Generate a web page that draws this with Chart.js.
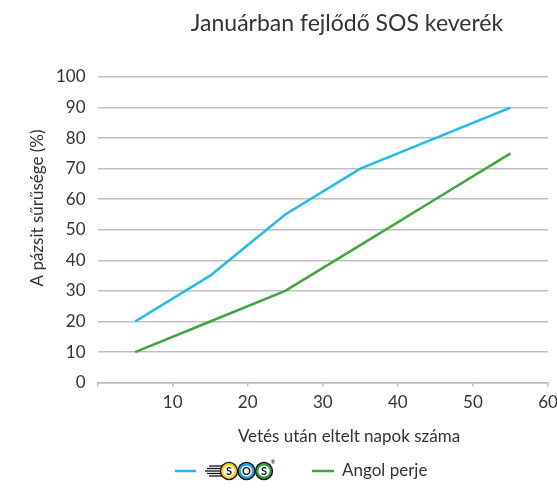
<!DOCTYPE html>
<html lang="hu">
<head>
  <meta charset="UTF-8" />
  <title>Januárban fejlődő SOS keverék</title>
  <script src="https://cdn.jsdelivr.net/npm/chart.js"></script>
  <style>
    html, body { margin: 0; padding: 0; background: #fff; }
    #wrap { width: 557px; height: 488px; position: relative; }
  </style>
</head>
<body>
  <div id="wrap"><canvas id="chart"></canvas></div>
  <script>
    const days = [5, 15, 25, 35, 45, 55];
    const sosValues = [20, 35, 55, 70, 80, 90];
    const angolValues = [10, 20, 30, 45, 60, 75];
    const xTicks = [0, 10, 20, 30, 40, 50, 60];

    const FONT = "Lato, 'Open Sans', sans-serif";
    const TEXT = '#333';

    // titles + legend drawn by hand so the placement matches the original
    const decor = {
      id: 'decor',
      afterDraw(chart) {
        const c = chart.ctx;
        c.save();
        c.fillStyle = TEXT;
        c.textBaseline = 'middle';
        c.textAlign = 'center';
        c.font = '23px ' + FONT;
        c.fillText('Januárban fejlődő SOS keverék', 347, 24);

        c.font = '17px ' + FONT;
        c.fillText('Vetés után eltelt napok száma', 349, 437);

        c.save();
        c.translate(38, 208);
        c.rotate(-Math.PI / 2);
        c.fillText('A pázsit sűrűsége (%)', 0, 0);
        c.restore();

        // legend
        const ly = 471;
        const ds = chart.data.datasets;
        c.lineWidth = 2.5;
        c.strokeStyle = ds[0].borderColor;
        c.beginPath(); c.moveTo(175, ly); c.lineTo(196, ly); c.stroke();

        // SOS logo
        c.strokeStyle = '#111';
        c.lineWidth = 1.3;
        for (let i = 0; i < 5; i++) {
          const yy = ly - 5 + i * 2.5;
          c.beginPath(); c.moveTo(205 + Math.abs(i - 2) * 2, yy); c.lineTo(222, yy); c.stroke();
        }
        const circles = [['#f5d312', 'S'], ['#1aa0dc', 'O'], ['#2e9e3c', 'S']];
        circles.forEach((cc, i) => {
          const cx = 229 + i * 17.5;
          c.beginPath();
          c.arc(cx, ly, 9.2, 0, Math.PI * 2);
          c.fillStyle = '#111';
          c.fill();
          c.beginPath();
          c.arc(cx, ly, 7.9, 0, Math.PI * 2);
          c.fillStyle = cc[0];
          c.fill();
          c.beginPath();
          c.arc(cx, ly, 5.6, 0, Math.PI * 2);
          c.fillStyle = '#fff';
          c.fill();
          c.fillStyle = '#111';
          c.font = 'bold 11px ' + FONT;
          c.fillText(cc[1], cx, ly + 0.5);
        });
        c.font = '6px ' + FONT;
        c.fillText('®', 273, ly - 9);

        c.lineWidth = 2.5;
        c.strokeStyle = ds[1].borderColor;
        c.beginPath(); c.moveTo(312, ly); c.lineTo(334, ly); c.stroke();
        c.fillStyle = TEXT;
        c.textAlign = 'left';
        c.font = '17px ' + FONT;
        c.fillText(ds[1].label, 342, ly);
        c.restore();
      }
    };

    new Chart(document.getElementById('chart'), {
      type: 'line',
      data: {
        datasets: [
          {
            label: 'SOS',
            data: days.map((d, i) => ({ x: d, y: sosValues[i] })),
            borderColor: '#1ebbee',
            borderWidth: 2.5,
            pointRadius: 0,
            tension: 0,
            fill: false
          },
          {
            label: 'Angol perje',
            data: days.map((d, i) => ({ x: d, y: angolValues[i] })),
            borderColor: '#3ea83a',
            borderWidth: 2.5,
            pointRadius: 0,
            tension: 0,
            fill: false
          }
        ]
      },
      options: {
        responsive: true,
        maintainAspectRatio: false,
        animation: false,
        layout: { padding: { top: 77, left: 44, right: 9, bottom: 69 } },
        plugins: {
          legend: { display: false },
          title: { display: false },
          tooltip: { enabled: false }
        },
        scales: {
          x: {
            type: 'linear',
            min: 0,
            max: 60,
            afterBuildTicks: axis => { axis.ticks = xTicks.map(v => ({ value: v })); },
            afterFit: axis => { axis.paddingRight = 0; axis.paddingLeft = 0; },
            grid: { drawOnChartArea: false, drawTicks: true, tickLength: 4, color: '#bbb', lineWidth: 1.5 },
            border: { color: '#bbb', width: 1.5 },
            ticks: {
              color: TEXT,
              font: { family: FONT, size: 17 },
              padding: 6,
              maxRotation: 0,
              callback: v => (v === 0 ? '' : v)
            }
          },
          y: {
            min: 0,
            max: 100,
            ticks: {
              stepSize: 10,
              color: TEXT,
              font: { family: FONT, size: 17 },
              padding: 12
            },
            grid: { color: '#c0c0c0', lineWidth: 1.5, drawTicks: false },
            border: { display: false }
          }
        }
      },
      plugins: [decor]
    });
  </script>
</body>
</html>
